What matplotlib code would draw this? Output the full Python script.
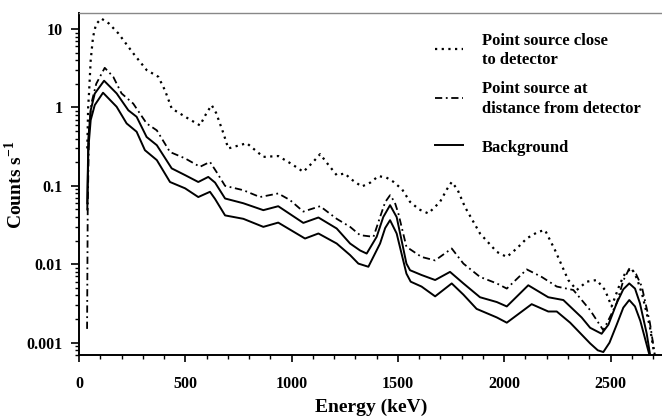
import matplotlib
matplotlib.use("Agg")
import matplotlib.pyplot as plt
from matplotlib.lines import Line2D
from matplotlib.ticker import FixedLocator, FixedFormatter, MultipleLocator, LogLocator, NullFormatter

plt.rcParams['font.family'] = ['Liberation Serif', 'DejaVu Serif']
plt.rcParams['font.weight'] = 'bold'
plt.rcParams['mathtext.fontset'] = 'custom'
plt.rcParams['mathtext.rm'] = 'Liberation Serif:bold'
plt.rcParams['mathtext.bf'] = 'Liberation Serif:bold'

# Data (energy keV, counts per second)
close_x = [39, 43, 47, 55, 66, 80, 105, 140, 185, 255, 318, 373, 404, 436, 514, 569, 600, 624, 645,
           679, 702, 789, 867, 937, 1000, 1055, 1100, 1134, 1170, 1212, 1251, 1275, 1330, 1370, 1408,
           1445, 1478, 1520, 1557, 1600, 1643, 1698, 1730, 1753, 1780, 1815, 1886, 1965, 2012, 2060,
           2106, 2160, 2192, 2239, 2301, 2341, 2388, 2435, 2474, 2505, 2545, 2570, 2600, 2625, 2650,
           2685, 2710]
close_y = [0.3, 1.0, 1.5, 4.0, 7.9, 11.5, 13.6, 11.8, 8.8, 4.9, 3.0, 2.46, 1.66, 0.97, 0.72, 0.59, 0.85, 1.07, 0.85,
           0.47, 0.30, 0.35, 0.234, 0.24, 0.19, 0.151, 0.2, 0.254, 0.19, 0.137, 0.144, 0.124, 0.098, 0.11, 0.133,
           0.128, 0.113, 0.09, 0.0625, 0.05, 0.0445, 0.0625, 0.09, 0.112, 0.09, 0.054, 0.0247, 0.0144, 0.0124, 0.016,
           0.0214, 0.026, 0.0272, 0.0151, 0.0063, 0.0047, 0.006, 0.0063, 0.0047, 0.0029, 0.0057, 0.0078, 0.0089, 0.0065, 0.004,
           0.0016, 0.0006]

dist_x = [38, 41, 47, 58, 81, 121, 161, 200, 255, 318, 366, 428, 499, 569, 616, 647, 687,
          773, 851, 937, 992, 1055, 1134, 1212, 1275, 1322, 1385, 1416, 1440, 1463, 1485, 1502, 1540,
          1611, 1675, 1753, 1808, 1886, 1965, 2012, 2106, 2176, 2247, 2325, 2404, 2466, 2500, 2529,
          2560, 2590, 2620, 2647, 2685, 2712]
dist_y = [0.0015, 0.05, 0.5, 1.12, 2.0, 3.2, 2.46, 1.51, 1.12, 0.625, 0.51, 0.27, 0.224, 0.175, 0.202, 0.15, 0.10,
          0.088, 0.072, 0.08, 0.066, 0.047, 0.055, 0.038, 0.030, 0.0235, 0.0224, 0.040, 0.062, 0.076, 0.062, 0.0445, 0.0167,
          0.0124, 0.0112, 0.0159, 0.0102, 0.0069, 0.0057, 0.0049, 0.0086, 0.0069, 0.0052, 0.0047, 0.0026, 0.00144, 0.0022, 0.0032,
          0.0062, 0.009, 0.0075, 0.0052, 0.0018, 0.0006]

bg1_x = [39, 44, 55, 74, 118, 177, 232, 271, 318, 366, 436, 499, 561, 608, 640, 687, 773, 867,
         937, 1055, 1126, 1212, 1275, 1322, 1353, 1400, 1431, 1463, 1494, 1517, 1540, 1557, 1611, 1675,
         1745, 1808, 1886, 1965, 2012, 2113, 2207, 2278, 2364, 2404, 2458, 2490, 2529, 2560, 2588,
         2615, 2638, 2670, 2690]
bg1_y = [0.06, 0.4, 0.92, 1.5, 2.19, 1.51, 0.92, 0.76, 0.42, 0.33, 0.167, 0.137, 0.112, 0.130, 0.11, 0.069, 0.060, 0.049,
         0.055, 0.0337, 0.0395, 0.0286, 0.0184, 0.015, 0.0137, 0.0224, 0.040, 0.0567, 0.040, 0.0203, 0.0102, 0.0084, 0.0073, 0.0063,
         0.008, 0.0057, 0.0038, 0.0033, 0.0029, 0.0054, 0.0038, 0.0035, 0.0021, 0.00155, 0.0013, 0.0017, 0.0032, 0.0048, 0.0057,
         0.0049, 0.0032, 0.00131, 0.0006]

bg2_x = [39, 44, 55, 74, 113, 177, 224, 271, 310, 366, 428, 499, 561, 616, 640, 687, 773, 867,
         937, 1063, 1126, 1212, 1275, 1314, 1361, 1416, 1440, 1463, 1494, 1517, 1540, 1560, 1611, 1675,
         1753, 1808, 1870, 1965, 2012, 2129, 2207, 2247, 2310, 2404, 2440, 2466, 2495, 2529, 2560,
         2588, 2615, 2640, 2677, 2690]
bg2_y = [0.05, 0.3, 0.69, 1.07, 1.54, 1.02, 0.625, 0.49, 0.285, 0.213, 0.112, 0.093, 0.072, 0.084, 0.068, 0.042, 0.038, 0.030,
         0.034, 0.0213, 0.0247, 0.0184, 0.0131, 0.0102, 0.0093, 0.0184, 0.029, 0.0365, 0.0247, 0.0137, 0.0076, 0.006, 0.0052, 0.0039,
         0.0057, 0.0041, 0.0027, 0.0021, 0.0018, 0.0031, 0.0025, 0.0025, 0.0018, 0.00098, 0.0008, 0.00076, 0.001, 0.0017, 0.0028,
         0.0035, 0.0029, 0.0019, 0.0008, 0.0006]

y_ticks = [0.001, 0.01, 0.1, 1, 10]
y_ticklabels = ['0.001', '0.01', '0.1', '1', '10']
x_ticks = [0, 500, 1000, 1500, 2000, 2500]
x_ticklabels = ['0', '500', '1000', '1500', '2000', '2500']
legend_labels = [["Point source close", "to detector"],
                 ["Point source at", "distance from detector"],
                 ["Background"]]

W, H = 662, 418
fig = plt.figure(figsize=(W / 100, H / 100), dpi=100)
ax = fig.add_axes([79 / W, 1 - 355 / H, 1 - 79 / W, (355 - 13) / H])

dot_style = (0, (1, 2))
dashdot_style = (0, (4, 2, 1, 2))

ax.plot(close_x, close_y, color='black', lw=1.6, linestyle=dot_style)
ax.plot(dist_x, dist_y, color='black', lw=1.3, linestyle=dashdot_style)
ax.plot(bg1_x, bg1_y, color='black', lw=1.4, linestyle='-')
ax.plot(bg2_x, bg2_y, color='black', lw=1.4, linestyle='-')

ax.set_yscale('log')
ax.set_xlim(0, 2742)
ax.set_ylim(0.000697, 16)

ax.yaxis.set_major_locator(FixedLocator(y_ticks))
ax.yaxis.set_major_formatter(FixedFormatter(y_ticklabels))
ax.yaxis.set_minor_locator(LogLocator(base=10, subs=[2, 3, 4, 5, 6, 7, 8, 9], numticks=20))
ax.yaxis.set_minor_formatter(NullFormatter())
ax.xaxis.set_major_locator(FixedLocator(x_ticks))
ax.xaxis.set_major_formatter(FixedFormatter(x_ticklabels))
ax.xaxis.set_minor_locator(MultipleLocator(100))

ax.tick_params(axis='both', which='major', direction='out', width=1.2, labelsize=11.5)
ax.tick_params(axis='y', which='major', length=6, pad=6)
ax.tick_params(axis='x', which='major', length=5, pad=10)
ax.tick_params(axis='y', which='minor', direction='out', length=3, width=1.0)
ax.tick_params(axis='x', which='minor', direction='out', length=3, width=1.0)
for lab in ax.get_xticklabels() + ax.get_yticklabels():
    lab.set_fontweight('bold')

ax.spines['right'].set_visible(False)
ax.spines['top'].set_color('#888888')
ax.spines['top'].set_linewidth(1.0)
ax.spines['left'].set_linewidth(1.4)
ax.spines['bottom'].set_linewidth(1.4)

fig.text(371 / W, 1 - 407 / H, 'Energy (keV)', ha='center', va='center', fontsize=14, fontweight='bold')
fig.text(15 / W, 1 - 185 / H, r'Counts s$^{-1}$', ha='center', va='center', rotation=90,
         fontsize=14, fontweight='bold')

# Legend (manual)
handle_styles = [(dot_style, 1.6), (dashdot_style, 1.3), ('-', 1.4)]
handle_y = [49.3, 97.7, 145]
baselines = [[45, 64], [93.3, 113], [151.7]]
for (ls, lw), hy, lines, bls in zip(handle_styles, handle_y, legend_labels, baselines):
    fig.add_artist(Line2D([435 / W, 463 / W], [1 - hy / H, 1 - hy / H], color='black', lw=lw,
                          linestyle=ls, transform=fig.transFigure))
    for txt, bl in zip(lines, bls):
        fig.text(481.7 / W, 1 - bl / H, txt, ha='left', va='baseline', fontsize=12, fontweight='bold')

fig.savefig('out.png', dpi=100)
